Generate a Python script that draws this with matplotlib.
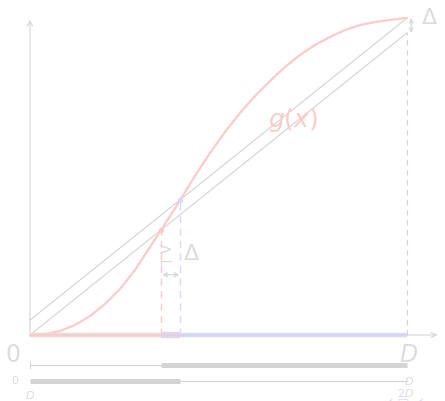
import numpy as np
import matplotlib; matplotlib.use("Agg")
import matplotlib.pyplot as plt

# domain [0, D], shift between the two chords, and the sigmoid-like g(x)
D = 1.0
delta = 0.047
gx = [0.0, 0.0398, 0.0796, 0.1194, 0.1592, 0.1989, 0.2387, 0.2785, 0.3183,
      0.3581, 0.3979, 0.4377, 0.4775, 0.5172, 0.5570, 0.5968, 0.6366, 0.6764,
      0.7162, 0.7560, 0.7958, 0.8355, 0.8753, 0.9151, 0.9549, 0.9947, 1.0]
gy = [0.0, 0.0032, 0.0126, 0.0315, 0.0599, 0.0978, 0.1451, 0.2050, 0.2776,
      0.3500, 0.4250, 0.5020, 0.5741, 0.6404, 0.7003, 0.7539, 0.8013, 0.8454,
      0.8833, 0.9148, 0.9401, 0.9621, 0.9779, 0.9874, 0.9937, 1.0, 1.0]
row_y = [-0.095, -0.145]       # the two interval rows under the axis

GRAY = "#d4d4d4"; TXT = "#dcdcdc"
PINK = "#ffcaca"; LAV = "#d8d8ff"

gx_a, gy_a = np.array(gx), np.array(gy)
lower = gx_a * (1 - delta)
upper = delta + gx_a * (1 - delta)


def crossing(line):
    d = gy_a - line
    i = np.argmax(d[1:-1] > 0) + 1
    t = -d[i - 1] / (d[i] - d[i - 1])
    return gx_a[i - 1] + t * (gx_a[i] - gx_a[i - 1])


x1 = crossing(lower)
x2 = crossing(upper)

fig = plt.figure(figsize=(4.45, 4.01), dpi=100)
ax = fig.add_axes([0, 0, 1, 1])
ax.set_xlim(-30 / 377, 415 / 377); ax.set_ylim(-66 / 317, 335 / 317)
ax.axis("off")

# axes with arrow heads
arr = dict(arrowstyle="->", color=GRAY, lw=0.8, mutation_scale=9)
ax.annotate("", xy=(1.088, 0), xytext=(0, 0), arrowprops=arr)
ax.annotate("", xy=(0, 1.003), xytext=(0, 0), arrowprops=arr)

# chords y = x(1-d) and y = d + x(1-d)
xs = np.array([0, D])
ax.plot(xs, xs * (1 - delta), color=GRAY, lw=0.8)
ax.plot(xs, delta + xs * (1 - delta), color=GRAY, lw=0.8)

ax.plot(gx, gy, color=PINK, lw=1.6)
ax.text(0.698, 0.678, "$g(x)$", color=PINK, fontsize=18, ha="center", va="center")

# dashed drop lines
ax.plot([x1, x1], [0, x1 * (1 - delta)], color=PINK, lw=1, ls=(0, (5, 4)))
ax.plot([x2, x2], [0, delta + x2 * (1 - delta)], color=LAV, lw=1, ls=(0, (5, 4)))
ax.plot([D, D], [0, D * (1 - delta)], color=GRAY, lw=0.8, ls=(0, (5, 4)))
ax.plot([x1], [x1 * (1 - delta)], "o", ms=3, color=PINK)
ax.plot([x2], [delta + x2 * (1 - delta)], "o", ms=3, color=LAV)

# gap markers
dbl = dict(arrowstyle="<->", color=GRAY, lw=0.8, mutation_scale=7,
           shrinkA=0, shrinkB=0)
ax.annotate("", xy=(1.011, 1.0), xytext=(1.011, 1 - delta), arrowprops=dbl)
ax.text(1.06, 1.0, r"$\Delta$", color=TXT, fontsize=16, ha="center", va="center")
ax.annotate("", xy=(x2 - 0.003, 0.19), xytext=(x1 + 0.003, 0.19), arrowprops=dbl)
ax.text(x1 + 0.01, 0.27, ">", color=TXT, fontsize=13, ha="center", va="center")
ax.plot([x1 + 0.0, x1 + 0.0], [0.205, 0.235], color=TXT, lw=0.9)
ax.plot([x1, x1 + 0.025], [0.235, 0.235], color=TXT, lw=0.9)
ax.text(x2 + 0.03, 0.255, r"$\Delta$", color=TXT, fontsize=16, ha="center", va="center")

# coloured pieces of [0, D] on the axis
ax.plot([0, x1], [0, 0], color="#ffd2d2", lw=3.2, solid_capstyle="butt")
ax.plot([x2, D], [0, 0], color="#d9d9ff", lw=3.2, solid_capstyle="butt")
ax.plot([x1, x2], [0, 0], color="#e6d4ea", lw=4.5, solid_capstyle="butt")
ax.text(-0.045, -0.062, "0", color=TXT, fontsize=17, ha="center", va="center")
ax.text(1.003, -0.062, "$D$", color=TXT, fontsize=17, ha="center", va="center")

# interval rows
ax.plot([0, x1], [row_y[0]] * 2, color=GRAY, lw=0.8)
ax.plot([0, 0], [row_y[0] - 0.01, row_y[0] + 0.01], color=GRAY, lw=0.8)
ax.plot([x1, D], [row_y[0]] * 2, color=GRAY, lw=3.6, solid_capstyle="butt")
ax.plot([0, x2], [row_y[1]] * 2, color=GRAY, lw=3.6, solid_capstyle="butt")
ax.plot([x2, D], [row_y[1]] * 2, color=GRAY, lw=0.8)
ax.text(-0.04, row_y[1], "0", color=TXT, fontsize=8, ha="center", va="center")
ax.text(1.005, row_y[1], "$D$", color=TXT, fontsize=8, ha="center", va="center")
ax.text(0.0, -0.19, "$D$", color=TXT, fontsize=8, ha="center", va="center")
ax.text(0.995, -0.184, "$2D$", color=TXT, fontsize=8, ha="center", va="center")
ax.text(0.99, -0.216, "\u227a \u25a1 \u227a", color=LAV, fontsize=9,
        ha="center", va="center")

fig.savefig("out.png", dpi=100)
